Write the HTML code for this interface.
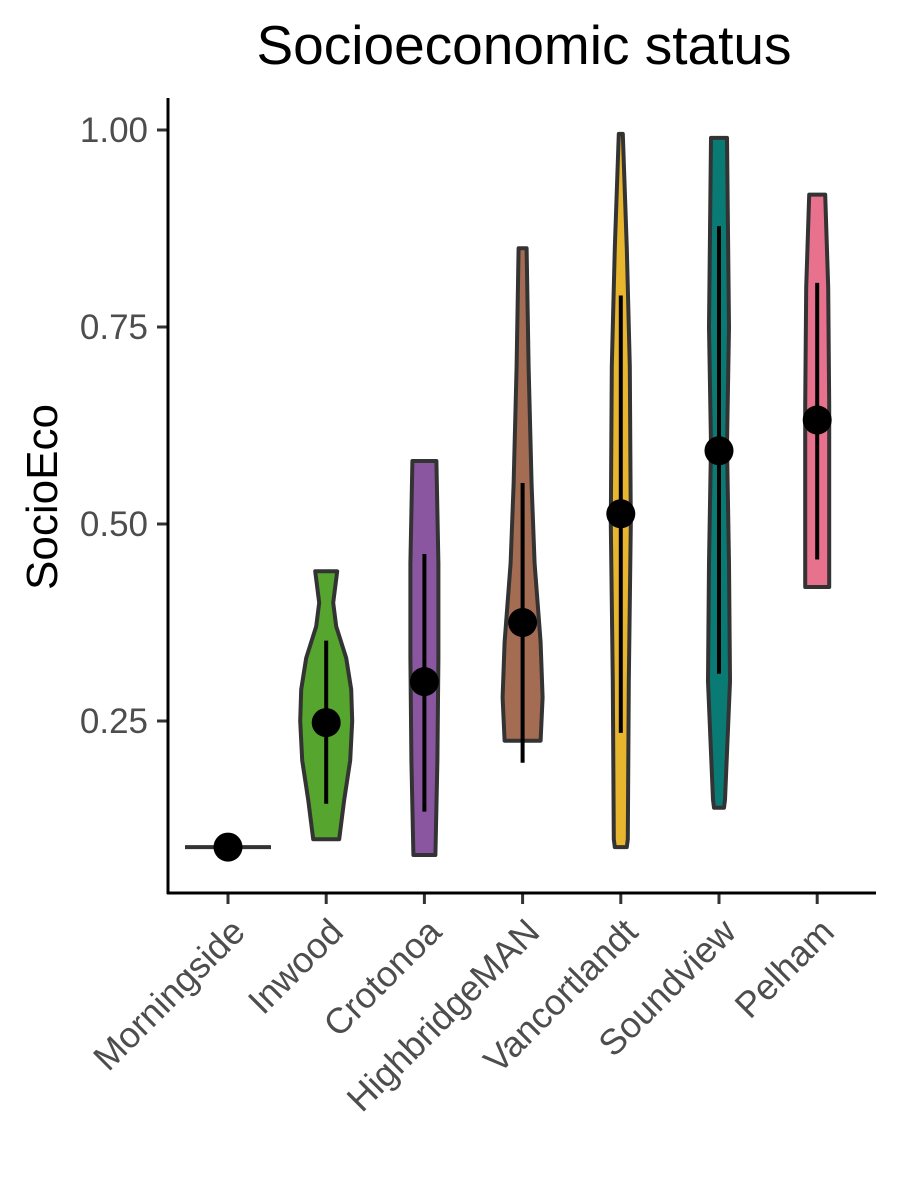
<!DOCTYPE html>
<html><head><meta charset="utf-8"><style>body{margin:0;background:#fff}svg{display:block}</style></head>
<body>
<svg id="chart" width="900" height="1200" xmlns="http://www.w3.org/2000/svg" font-family="Liberation Sans, sans-serif">
<text x="524" y="64" text-anchor="middle" font-size="55" fill="#000">Socioeconomic status</text>
<text transform="translate(57,497) rotate(-90)" text-anchor="middle" font-size="44" fill="#000">SocioEco</text>
<g id="plot"></g>
</svg>
<script>
const categories=["Morningside","Inwood","Crotonoa","HighbridgeMAN","Vancortlandt","Soundview","Pelham"];
const colors=["#3a3a3a","#55a52e","#8b56a0","#a46c52","#e8b52e","#0a7a74","#e8718e"];
const means=[0.09,0.248,0.30,0.375,0.513,0.593,0.632];
const barLow=[null,0.145,0.135,0.197,0.235,0.31,0.455];
const barHigh=[null,0.352,0.462,0.552,0.79,0.878,0.806];
const densVals=[
 [0.09],
 [0.10,0.15,0.20,0.25,0.29,0.33,0.37,0.40,0.44],
 [0.08,0.2,0.33,0.45,0.58],
 [0.225,0.28,0.35,0.45,0.55,0.7,0.85],
 [0.09,0.1,0.3,0.5,0.7,0.85,0.995],
 [0.14,0.15,0.3,0.45,0.6,0.75,0.99],
 [0.42,0.5,0.65,0.8,0.918]];
const densW=[
 [43],
 [13,18,24,26,25,20,10,7,11],
 [11,13,14,14,12],
 [18,20,18,12,9,6,4],
 [6,7,8,10,9,6,2],
 [5,6,11,10,8,10,8],
 [12,12,12,11,8]];
const yTicks=[0.25,0.5,0.75,1.0];
const yTickLabels=["0.25","0.50","0.75","1.00"];
const y=v=>130+(1-v)*788;
const x=i=>228+i*98.2;
const g=document.getElementById('plot');
const NS="http://www.w3.org/2000/svg";
function mk(t,a){const e=document.createElementNS(NS,t);for(const k in a)e.setAttribute(k,a[k]);g.appendChild(e);return e;}
categories.forEach((c,i)=>{
 const cx=x(i),vs=densVals[i],ws=densW[i];
 if(vs.length===1){
  const l=mk('line',{x1:cx-ws[0],x2:cx+ws[0],y1:y(vs[0]),y2:y(vs[0]),stroke:'#333',"stroke-width":4});
  
  
 } else {
  let pts=vs.map((v,j)=>[cx+ws[j],y(v)]);
  let left=vs.map((v,j)=>[cx-ws[j],y(v)]).reverse();
  const all=pts.concat(left);
  const p=mk('path',{d:'M'+all.map(q=>q[0].toFixed(1)+','+q[1].toFixed(1)).join('L')+'Z',fill:colors[i],stroke:'#333',"stroke-width":4,"stroke-linejoin":"round"});
  
  
 }
 if(barLow[i]!==null){
  const b=mk('line',{x1:cx,x2:cx,y1:y(barLow[i]),y2:y(barHigh[i]),stroke:'#000',"stroke-width":4});
  
  
 }
 const d=mk('circle',{cx:cx,cy:y(means[i]),r:14.5,fill:'#000'});
 
 
 const t=mk('line',{x1:cx,x2:cx,y1:893,y2:904,stroke:'#333',"stroke-width":3});
 
 
 const lb=mk('text',{transform:`translate(${cx+19},${934}) rotate(-45)`,"text-anchor":"end","font-size":36,fill:'#4d4d4d'});
 lb.textContent=c;
 
 
});
yTicks.forEach((v,i)=>{
 const t=mk('line',{x1:157,x2:168,y1:y(v),y2:y(v),stroke:'#333',"stroke-width":3});
 
 
 const l=mk('text',{x:148,y:y(v)+12,"text-anchor":"end","font-size":35,fill:'#4d4d4d'});
 l.textContent=yTickLabels[i];
 
 
});
const ya=mk('line',{x1:168,x2:168,y1:98,y2:894,stroke:'#000',"stroke-width":3});


const xa=mk('line',{x1:167,x2:876,y1:893,y2:893,stroke:'#000',"stroke-width":3});


</script>
</body></html>
